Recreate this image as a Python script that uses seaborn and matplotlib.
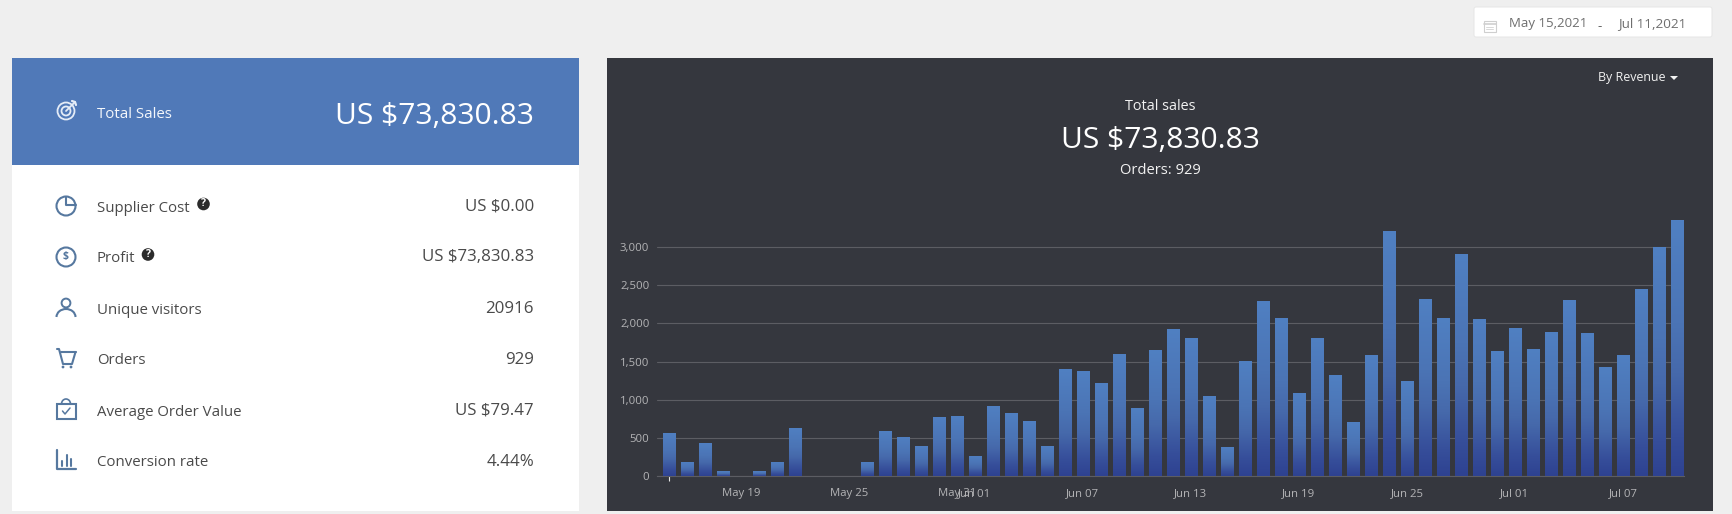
import numpy as np
import pandas as pd
import seaborn as sns
import matplotlib.pyplot as plt
from matplotlib.colors import LinearSegmentedColormap
from matplotlib.patches import Rectangle, Circle, Arc, FancyBboxPatch
from matplotlib.ticker import FuncFormatter

# --- Data ---
start_date = "2021-05-15"
revenue = [567, 187, 440, 65, 0, 65, 187, 637, 0, 0, 0, 187, 589, 519, 401, 781, 790, 262, 920,
           833, 729, 401, 1409, 1374, 1217, 1606, 890, 1654, 1933, 1806, 1056, 388, 1510, 2299,
           2068, 1095, 1811, 1326, 711, 1588, 3211, 1252, 2325, 2077, 2910, 2059, 1636, 1941,
           1662, 1885, 2312, 1872, 1431, 1584, 2452, 2993, 3346]
tick_labels = ["May 19", "May 25", "May 31", "Jun 01", "Jun 07", "Jun 13", "Jun 19", "Jun 25", "Jul 01", "Jul 07"]
y_ticks = [0, 500, 1000, 1500, 2000, 2500, 3000]

stat_labels = ["Supplier Cost", "Profit", "Unique visitors", "Orders", "Average Order Value", "Conversion rate"]
stat_values = ["US $0.00", "US $73,830.83", "20916", "929", "US $79.47", "4.44%"]

# --- Colours and page geometry (pixels of the 1732x514 screenshot) ---
W, H = 1732, 514
PAGE = "#efefef"
DARK = "#35373e"
BLUE = "#5079b8"
ICON = "#56789f"
GRID = "#5c5d63"
TICK_TEXT = "#b4b4b6"
TEXT = "#4a4a4a"
FONT = "Open Sans"

sns.set_theme(style="dark", rc={"figure.facecolor": PAGE})
plt.rcParams["font.family"] = [FONT, "DejaVu Sans"]

fig = plt.figure(figsize=(W / 100, H / 100), dpi=100, facecolor=PAGE)

# page axes in pixel coordinates, for the panels and text around the chart
page = fig.add_axes([0, 0, 1, 1], zorder=0)
page.set_xlim(0, W)
page.set_ylim(H, 0)
page.axis("off")


def box(x0, y0, x1, y1, color, **kw):
    page.add_patch(Rectangle((x0, y0), x1 - x0, y1 - y0, facecolor=color, edgecolor="none", **kw))


def label(x, y, s, size, color=TEXT, ha="left", **kw):
    page.text(x, y, s, fontsize=size, color=color, ha=ha, va="center", **kw)


def line(xs, ys, color=ICON, lw=1.3):
    page.plot(xs, ys, color=color, lw=lw, solid_capstyle="round")


def ring(x, y, r, color=ICON, lw=1.3):
    page.add_patch(Circle((x, y), r, facecolor="none", edgecolor=color, lw=lw))


# --- Panels ---
box(12, 58, 579, 511, "white")
box(12, 58, 579, 165, BLUE)
box(607, 58, 1713, 511, DARK)

# date picker
page.add_patch(FancyBboxPatch((1474, 7), 238, 30, boxstyle="round,pad=0,rounding_size=2",
                              facecolor="white", edgecolor="#e6e6e6", lw=0.7))
page.add_patch(Rectangle((1483.5, 20.5), 12, 11, facecolor="none", edgecolor="#cfcfcf", lw=0.8))
line([1483.5, 1495.5], [23.5, 23.5], "#cfcfcf", 1.2)
line([1486, 1493], [26.5, 26.5], "#d8d8d8", 0.7)
line([1486, 1493], [29, 29], "#d8d8d8", 0.7)
label(1509, 24, "May 15,2021", 9.5, "#6e6e6e")
label(1600, 27, "-", 9.5, "#555555", ha="center")
label(1618, 24, "Jul 11,2021", 9.7, "#6e6e6e")

# header of the left panel
line_col = "#e4ecf7"
ring(66, 111, 8.5, line_col)
ring(66, 111, 4.5, line_col)
line([66, 75], [111, 102], line_col)
line([72, 75, 76], [101, 102, 105], line_col, 1.6)
label(97, 114, "Total Sales", 10.8, "#f4f7fb")
label(534, 116, "US $73,830.83", 21.6, "white", ha="right")

# rows of the left panel
label_y = [208, 258, 310, 360, 412, 462]
value_y = [207, 257, 309, 360, 411, 462]
for s, v, y0, y1 in zip(stat_labels, stat_values, label_y, value_y):
    label(97, y0, s, 10.8)
    label(534, y1, v, 12.2, ha="right")

# question marks next to the first two rows
for x, y in [(203.5, 204), (148, 254.5)]:
    page.add_patch(Circle((x, y), 6.3, facecolor="#2b2b2b", edgecolor="none"))
    page.text(x, y, "?", fontsize=7.5, color="white", ha="center", va="center", fontweight="bold")

# supplier cost icon
ring(66, 206, 9.5, ICON, 1.5)
line([66, 66, 75.5], [196.5, 205, 205], ICON, 1.5)
# profit icon
ring(66, 257, 9.5, ICON, 1.5)
page.text(66, 257, "$", fontsize=7.5, color=ICON, ha="center", va="center", fontweight="bold")
# visitors icon
ring(66, 303, 4.4, ICON, 1.4)
page.add_patch(Arc((66, 317), 19, 16, theta1=180, theta2=360, color=ICON, lw=1.5))
# cart icon
line([57, 59, 63, 72, 75.5], [349, 349, 364, 364, 352], ICON, 1.5)
line([61, 75.5], [352, 352], ICON, 1.5)
page.add_patch(Circle((63, 367), 1.4, facecolor=ICON, edgecolor="none"))
page.add_patch(Circle((71, 367), 1.4, facecolor=ICON, edgecolor="none"))
# order value icon
page.add_patch(Rectangle((57, 404), 18.5, 15, facecolor="none", edgecolor=ICON, lw=1.5))
page.add_patch(Arc((66, 404), 9, 10, theta1=180, theta2=360, color=ICON, lw=1.2))
line([62.5, 65, 70], [411, 414, 408], ICON, 1.1)
# conversion icon
line([57, 57, 76], [450, 469, 469], ICON, 1.6)
line([62, 62], [461, 466], ICON, 1.5)
line([66.5, 66.5], [455, 466], ICON, 1.5)
line([71, 71], [459, 466], ICON, 1.5)

# text over the chart
label(1160, 107, "Total sales", 10.4, "#f2f2f2", ha="center")
label(1160, 141, "US $73,830.83", 21.6, "white", ha="center")
label(1160, 171, "Orders: 929", 10.6, "#f2f2f2", ha="center")
label(1598, 78, "By Revenue", 8.9, "#f2f2f2")
page.fill([1670, 1678, 1674], [76, 76, 80], color="#f2f2f2", lw=0)

# --- Bar chart ---
days = pd.date_range(start_date, periods=len(revenue))
df = pd.DataFrame({"day": days.strftime("%b %d"), "revenue": revenue})

left, right, bottom, top = 657, 1684, 476.3, 215.6
ax = fig.add_axes([left / W, 1 - bottom / H, (right - left) / W, (bottom - top) / H], zorder=1)
ax.patch.set_alpha(0)

sns.barplot(data=df, x="day", y="revenue", color="#4a70b0", saturation=1, width=0.667,
            linewidth=0, edgecolor="none", ax=ax, zorder=2)

ax.set_xlim(-0.667, 56.39)
ax.set_ylim(0, 3410)
ax.set_xlabel("")
ax.set_ylabel("")

ax.set_yticks(y_ticks)
ax.yaxis.set_major_formatter(FuncFormatter(lambda v, _: f"{int(v):,}"))
ax.grid(axis="y", color=GRID, lw=0.8, zorder=1)
ax.grid(axis="x", visible=False)
ax.set_axisbelow(True)
ax.tick_params(axis="y", length=0, pad=5.5, labelsize=8.2, labelcolor=TICK_TEXT)

positions = [list(df["day"]).index(t) for t in tick_labels]
ax.set_xticks(positions, tick_labels)
ax.tick_params(axis="x", length=7, width=0.7, color="#77787c", pad=1.4, labelsize=8.2, labelcolor=TICK_TEXT)
ax.set_xticks([0], minor=True)
ax.tick_params(axis="x", which="minor", length=3.5, width=0.8, color="#e8e8e8", bottom=True)

for side in ["top", "left", "right"]:
    ax.spines[side].set_visible(False)
ax.spines["bottom"].set_color(GRID)
ax.spines["bottom"].set_linewidth(0.8)

# every bar fades from the lighter blue down to navy in its lower part
fade = LinearSegmentedColormap.from_list("bar_fade", [(0, "#2e4291"), (0.15, "#364e9a"), (0.4, "#4669ab"), (0.6, "#4b74b5"), (1, "#5080c2")])
gradient = np.linspace(1, 0, 128).reshape(-1, 1)
for bar in ax.patches:
    h = bar.get_height()
    if h <= 0:
        continue
    x0 = bar.get_x()
    img = ax.imshow(gradient, cmap=fade, vmin=0, vmax=1, aspect="auto", zorder=3,
                    extent=(x0, x0 + bar.get_width(), 0, h))
    img.set_clip_path(bar)
ax.set_xlim(-0.667, 56.39)
ax.set_ylim(0, 3410)

fig.savefig("out.png", dpi=100, facecolor=PAGE)
plt.close(fig)
